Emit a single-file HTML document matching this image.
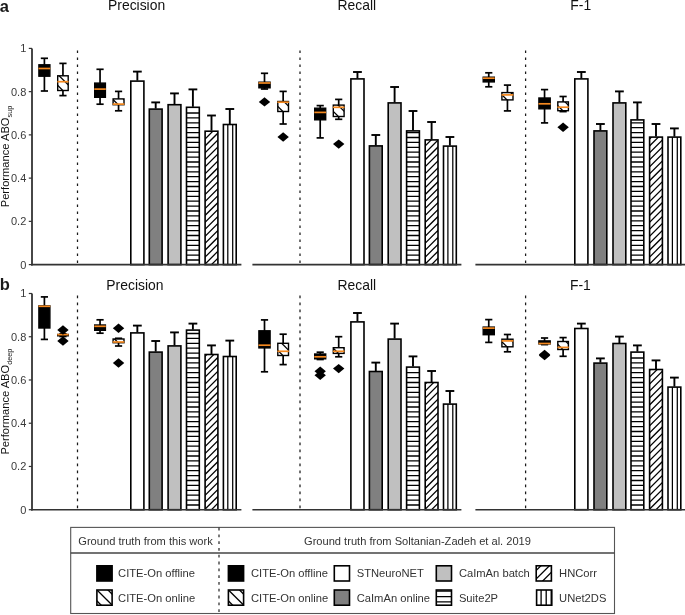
<!DOCTYPE html><html><head><meta charset="utf-8"><title>Figure</title><style>html,body{margin:0;padding:0;background:#fff;overflow:hidden;}svg{display:block;will-change:transform;}</style></head><body>
<svg width="685" height="615" viewBox="0 0 685 615" font-family='"Liberation Sans", sans-serif'>
<rect width="685" height="615" fill="#fff"/>
<text x="-0.3" y="11.6" font-size="16.5" font-weight="bold" fill="#1a1a1a">a</text>
<text x="136.6" y="10.1" font-size="13.9" text-anchor="middle" fill="#111">Precision</text>
<line x1="77.5" y1="50.4" x2="77.5" y2="263.1" stroke="#1a1a1a" stroke-width="1.25" stroke-dasharray="2.7 4.3"/>
<line x1="137.35" y1="71.6" x2="137.35" y2="80.6" stroke="#000" stroke-width="1.9"/>
<line x1="132.95" y1="71.6" x2="141.75" y2="71.6" stroke="#000" stroke-width="1.9"/>
<rect x="130.8" y="81.1" width="13.1" height="183.5" fill="#fff"/>
<rect x="130.8" y="81.1" width="13.1" height="183.5" fill="none" stroke="#000" stroke-width="1.6"/>
<line x1="155.7" y1="102.4" x2="155.7" y2="108.6" stroke="#000" stroke-width="1.9"/>
<line x1="151.3" y1="102.4" x2="160.1" y2="102.4" stroke="#000" stroke-width="1.9"/>
<rect x="149.3" y="109.1" width="12.8" height="155.5" fill="#808080"/>
<rect x="149.3" y="109.1" width="12.8" height="155.5" fill="none" stroke="#000" stroke-width="1.6"/>
<line x1="174.5" y1="93.4" x2="174.5" y2="104.2" stroke="#000" stroke-width="1.9"/>
<line x1="170.1" y1="93.4" x2="178.9" y2="93.4" stroke="#000" stroke-width="1.9"/>
<rect x="168.1" y="104.7" width="12.8" height="159.9" fill="#c0c0c0"/>
<rect x="168.1" y="104.7" width="12.8" height="159.9" fill="none" stroke="#000" stroke-width="1.6"/>
<line x1="192.9" y1="89.4" x2="192.9" y2="106.8" stroke="#000" stroke-width="1.9"/>
<line x1="188.5" y1="89.4" x2="197.3" y2="89.4" stroke="#000" stroke-width="1.9"/>
<rect x="186.5" y="107.3" width="12.8" height="157.3" fill="#fff"/>
<path d="M186.5 113H199.3M186.5 117.9H199.3M186.5 122.8H199.3M186.5 127.7H199.3M186.5 132.6H199.3M186.5 137.5H199.3M186.5 142.4H199.3M186.5 147.3H199.3M186.5 152.2H199.3M186.5 157.1H199.3M186.5 162H199.3M186.5 166.9H199.3M186.5 171.8H199.3M186.5 176.7H199.3M186.5 181.6H199.3M186.5 186.5H199.3M186.5 191.4H199.3M186.5 196.3H199.3M186.5 201.2H199.3M186.5 206.1H199.3M186.5 211H199.3M186.5 215.9H199.3M186.5 220.8H199.3M186.5 225.7H199.3M186.5 230.6H199.3M186.5 235.5H199.3M186.5 240.4H199.3M186.5 245.3H199.3M186.5 250.2H199.3M186.5 255.1H199.3M186.5 260H199.3" stroke="#000" stroke-width="1.3"/>
<rect x="186.5" y="107.3" width="12.8" height="157.3" fill="none" stroke="#000" stroke-width="1.6"/>
<line x1="211.5" y1="115.5" x2="211.5" y2="130.7" stroke="#000" stroke-width="1.9"/>
<line x1="207.1" y1="115.5" x2="215.9" y2="115.5" stroke="#000" stroke-width="1.9"/>
<rect x="205.1" y="131.2" width="12.8" height="133.4" fill="#fff"/>
<clipPath id="c1"><rect x="205.1" y="131.2" width="12.8" height="133.4"/></clipPath><g clip-path="url(#c1)" stroke="#000" stroke-width="1.25"><line x1="203.1" y1="113.15" x2="219.9" y2="96.35"/><line x1="203.1" y1="120.1" x2="219.9" y2="103.3"/><line x1="203.1" y1="127.05" x2="219.9" y2="110.25"/><line x1="203.1" y1="134" x2="219.9" y2="117.2"/><line x1="203.1" y1="140.95" x2="219.9" y2="124.15"/><line x1="203.1" y1="147.9" x2="219.9" y2="131.1"/><line x1="203.1" y1="154.85" x2="219.9" y2="138.05"/><line x1="203.1" y1="161.8" x2="219.9" y2="145"/><line x1="203.1" y1="168.75" x2="219.9" y2="151.95"/><line x1="203.1" y1="175.7" x2="219.9" y2="158.9"/><line x1="203.1" y1="182.65" x2="219.9" y2="165.85"/><line x1="203.1" y1="189.6" x2="219.9" y2="172.8"/><line x1="203.1" y1="196.55" x2="219.9" y2="179.75"/><line x1="203.1" y1="203.5" x2="219.9" y2="186.7"/><line x1="203.1" y1="210.45" x2="219.9" y2="193.65"/><line x1="203.1" y1="217.4" x2="219.9" y2="200.6"/><line x1="203.1" y1="224.35" x2="219.9" y2="207.55"/><line x1="203.1" y1="231.3" x2="219.9" y2="214.5"/><line x1="203.1" y1="238.25" x2="219.9" y2="221.45"/><line x1="203.1" y1="245.2" x2="219.9" y2="228.4"/><line x1="203.1" y1="252.15" x2="219.9" y2="235.35"/><line x1="203.1" y1="259.1" x2="219.9" y2="242.3"/><line x1="203.1" y1="266.05" x2="219.9" y2="249.25"/><line x1="203.1" y1="273" x2="219.9" y2="256.2"/><line x1="203.1" y1="279.95" x2="219.9" y2="263.15"/></g>
<rect x="205.1" y="131.2" width="12.8" height="133.4" fill="none" stroke="#000" stroke-width="1.6"/>
<line x1="229.8" y1="109.0" x2="229.8" y2="124.0" stroke="#000" stroke-width="1.9"/>
<line x1="225.4" y1="109.0" x2="234.2" y2="109.0" stroke="#000" stroke-width="1.9"/>
<rect x="223.4" y="124.5" width="12.8" height="140.1" fill="#fff"/>
<line x1="227.8" y1="124.5" x2="227.8" y2="264.6" stroke="#000" stroke-width="1.25"/>
<line x1="232.7" y1="124.5" x2="232.7" y2="264.6" stroke="#000" stroke-width="1.25"/>
<rect x="223.4" y="124.5" width="12.8" height="140.1" fill="none" stroke="#000" stroke-width="1.6"/>
<line x1="44.4" y1="58.3" x2="44.4" y2="91.0" stroke="#000" stroke-width="1.7"/>
<line x1="40.8" y1="58.3" x2="48" y2="58.3" stroke="#000" stroke-width="1.7"/>
<line x1="40.8" y1="91.0" x2="48" y2="91.0" stroke="#000" stroke-width="1.7"/>
<rect x="38.9" y="64.8" width="11" height="11.4" fill="#000" stroke="#000" stroke-width="1.4"/>
<line x1="38.5" y1="68.5" x2="50.3" y2="68.5" stroke="#f5891f" stroke-width="1.7"/>
<line x1="62.95" y1="63.4" x2="62.95" y2="95.6" stroke="#000" stroke-width="1.7"/>
<line x1="59.35" y1="63.4" x2="66.55" y2="63.4" stroke="#000" stroke-width="1.7"/>
<line x1="59.35" y1="95.6" x2="66.55" y2="95.6" stroke="#000" stroke-width="1.7"/>
<rect x="57.7" y="75.8" width="10.5" height="14.7" fill="#fff"/>
<clipPath id="c2"><rect x="57.7" y="75.8" width="10.5" height="14.7"/></clipPath><g clip-path="url(#c2)" stroke="#000" stroke-width="1.3"><line x1="55.7" y1="50.4" x2="70.2" y2="64.9"/><line x1="55.7" y1="61.4" x2="70.2" y2="75.9"/><line x1="55.7" y1="72.4" x2="70.2" y2="86.9"/><line x1="55.7" y1="83.4" x2="70.2" y2="97.9"/><line x1="55.7" y1="94.4" x2="70.2" y2="108.9"/></g>
<rect x="57.7" y="75.8" width="10.5" height="14.7" fill="none" stroke="#000" stroke-width="1.4"/>
<line x1="57.3" y1="81.7" x2="68.6" y2="81.7" stroke="#f5891f" stroke-width="1.7"/>
<line x1="100.05" y1="69.3" x2="100.05" y2="104.2" stroke="#000" stroke-width="1.7"/>
<line x1="96.45" y1="69.3" x2="103.65" y2="69.3" stroke="#000" stroke-width="1.7"/>
<line x1="96.45" y1="104.2" x2="103.65" y2="104.2" stroke="#000" stroke-width="1.7"/>
<rect x="94.7" y="83.1" width="10.7" height="14.2" fill="#000" stroke="#000" stroke-width="1.4"/>
<line x1="94.3" y1="89.1" x2="105.8" y2="89.1" stroke="#f5891f" stroke-width="1.7"/>
<line x1="118.55" y1="91.4" x2="118.55" y2="110.8" stroke="#000" stroke-width="1.7"/>
<line x1="114.95" y1="91.4" x2="122.15" y2="91.4" stroke="#000" stroke-width="1.7"/>
<line x1="114.95" y1="110.8" x2="122.15" y2="110.8" stroke="#000" stroke-width="1.7"/>
<rect x="113.1" y="98.9" width="10.9" height="5.8" fill="#fff"/>
<clipPath id="c3"><rect x="113.1" y="98.9" width="10.9" height="5.8"/></clipPath><g clip-path="url(#c3)" stroke="#000" stroke-width="1.3"><line x1="111.1" y1="64.6" x2="126" y2="79.5"/><line x1="111.1" y1="75.6" x2="126" y2="90.5"/><line x1="111.1" y1="86.6" x2="126" y2="101.5"/><line x1="111.1" y1="97.6" x2="126" y2="112.5"/><line x1="111.1" y1="108.6" x2="126" y2="123.5"/></g>
<rect x="113.1" y="98.9" width="10.9" height="5.8" fill="none" stroke="#000" stroke-width="1.4"/>
<line x1="112.7" y1="104.1" x2="124.4" y2="104.1" stroke="#f5891f" stroke-width="1.7"/>
<line x1="31.0" y1="264.6" x2="241.4" y2="264.6" stroke="#333" stroke-width="1.6"/>
<text x="356.8" y="10.1" font-size="13.9" text-anchor="middle" fill="#111">Recall</text>
<line x1="300.0" y1="50.4" x2="300.0" y2="263.1" stroke="#1a1a1a" stroke-width="1.25" stroke-dasharray="2.7 4.3"/>
<line x1="357.45" y1="72.0" x2="357.45" y2="78.4" stroke="#000" stroke-width="1.9"/>
<line x1="353.05" y1="72.0" x2="361.85" y2="72.0" stroke="#000" stroke-width="1.9"/>
<rect x="350.9" y="78.9" width="13.1" height="185.7" fill="#fff"/>
<rect x="350.9" y="78.9" width="13.1" height="185.7" fill="none" stroke="#000" stroke-width="1.6"/>
<line x1="375.8" y1="135.0" x2="375.8" y2="145.4" stroke="#000" stroke-width="1.9"/>
<line x1="371.4" y1="135.0" x2="380.2" y2="135.0" stroke="#000" stroke-width="1.9"/>
<rect x="369.4" y="145.9" width="12.8" height="118.7" fill="#808080"/>
<rect x="369.4" y="145.9" width="12.8" height="118.7" fill="none" stroke="#000" stroke-width="1.6"/>
<line x1="394.6" y1="87.0" x2="394.6" y2="102.4" stroke="#000" stroke-width="1.9"/>
<line x1="390.2" y1="87.0" x2="399" y2="87.0" stroke="#000" stroke-width="1.9"/>
<rect x="388.2" y="102.9" width="12.8" height="161.7" fill="#c0c0c0"/>
<rect x="388.2" y="102.9" width="12.8" height="161.7" fill="none" stroke="#000" stroke-width="1.6"/>
<line x1="413" y1="111.0" x2="413" y2="130.4" stroke="#000" stroke-width="1.9"/>
<line x1="408.6" y1="111.0" x2="417.4" y2="111.0" stroke="#000" stroke-width="1.9"/>
<rect x="406.6" y="130.9" width="12.8" height="133.7" fill="#fff"/>
<path d="M406.6 132.6H419.4M406.6 137.5H419.4M406.6 142.4H419.4M406.6 147.3H419.4M406.6 152.2H419.4M406.6 157.1H419.4M406.6 162H419.4M406.6 166.9H419.4M406.6 171.8H419.4M406.6 176.7H419.4M406.6 181.6H419.4M406.6 186.5H419.4M406.6 191.4H419.4M406.6 196.3H419.4M406.6 201.2H419.4M406.6 206.1H419.4M406.6 211H419.4M406.6 215.9H419.4M406.6 220.8H419.4M406.6 225.7H419.4M406.6 230.6H419.4M406.6 235.5H419.4M406.6 240.4H419.4M406.6 245.3H419.4M406.6 250.2H419.4M406.6 255.1H419.4M406.6 260H419.4" stroke="#000" stroke-width="1.3"/>
<rect x="406.6" y="130.9" width="12.8" height="133.7" fill="none" stroke="#000" stroke-width="1.6"/>
<line x1="431.6" y1="122.0" x2="431.6" y2="139.4" stroke="#000" stroke-width="1.9"/>
<line x1="427.2" y1="122.0" x2="436" y2="122.0" stroke="#000" stroke-width="1.9"/>
<rect x="425.2" y="139.9" width="12.8" height="124.7" fill="#fff"/>
<clipPath id="c4"><rect x="425.2" y="139.9" width="12.8" height="124.7"/></clipPath><g clip-path="url(#c4)" stroke="#000" stroke-width="1.25"><line x1="423.2" y1="120.1" x2="440" y2="103.3"/><line x1="423.2" y1="127.05" x2="440" y2="110.25"/><line x1="423.2" y1="134" x2="440" y2="117.2"/><line x1="423.2" y1="140.95" x2="440" y2="124.15"/><line x1="423.2" y1="147.9" x2="440" y2="131.1"/><line x1="423.2" y1="154.85" x2="440" y2="138.05"/><line x1="423.2" y1="161.8" x2="440" y2="145"/><line x1="423.2" y1="168.75" x2="440" y2="151.95"/><line x1="423.2" y1="175.7" x2="440" y2="158.9"/><line x1="423.2" y1="182.65" x2="440" y2="165.85"/><line x1="423.2" y1="189.6" x2="440" y2="172.8"/><line x1="423.2" y1="196.55" x2="440" y2="179.75"/><line x1="423.2" y1="203.5" x2="440" y2="186.7"/><line x1="423.2" y1="210.45" x2="440" y2="193.65"/><line x1="423.2" y1="217.4" x2="440" y2="200.6"/><line x1="423.2" y1="224.35" x2="440" y2="207.55"/><line x1="423.2" y1="231.3" x2="440" y2="214.5"/><line x1="423.2" y1="238.25" x2="440" y2="221.45"/><line x1="423.2" y1="245.2" x2="440" y2="228.4"/><line x1="423.2" y1="252.15" x2="440" y2="235.35"/><line x1="423.2" y1="259.1" x2="440" y2="242.3"/><line x1="423.2" y1="266.05" x2="440" y2="249.25"/><line x1="423.2" y1="273" x2="440" y2="256.2"/><line x1="423.2" y1="279.95" x2="440" y2="263.15"/></g>
<rect x="425.2" y="139.9" width="12.8" height="124.7" fill="none" stroke="#000" stroke-width="1.6"/>
<line x1="449.9" y1="137.0" x2="449.9" y2="145.6" stroke="#000" stroke-width="1.9"/>
<line x1="445.5" y1="137.0" x2="454.3" y2="137.0" stroke="#000" stroke-width="1.9"/>
<rect x="443.5" y="146.1" width="12.8" height="118.5" fill="#fff"/>
<line x1="447.9" y1="146.1" x2="447.9" y2="264.6" stroke="#000" stroke-width="1.25"/>
<line x1="452.8" y1="146.1" x2="452.8" y2="264.6" stroke="#000" stroke-width="1.25"/>
<rect x="443.5" y="146.1" width="12.8" height="118.5" fill="none" stroke="#000" stroke-width="1.6"/>
<line x1="264.5" y1="73.3" x2="264.5" y2="89.0" stroke="#000" stroke-width="1.7"/>
<line x1="260.9" y1="73.3" x2="268.1" y2="73.3" stroke="#000" stroke-width="1.7"/>
<line x1="260.9" y1="89.0" x2="268.1" y2="89.0" stroke="#000" stroke-width="1.7"/>
<rect x="258.9" y="82.2" width="11.2" height="5.6" fill="#000" stroke="#000" stroke-width="1.4"/>
<line x1="258.5" y1="83.0" x2="270.5" y2="83.0" stroke="#f5891f" stroke-width="1.7"/>
<path d="M258.8 101.9L264.5 97.2L270.2 101.9L264.5 106.6Z" fill="#000"/>
<line x1="283.15" y1="91.4" x2="283.15" y2="124.0" stroke="#000" stroke-width="1.7"/>
<line x1="279.55" y1="91.4" x2="286.75" y2="91.4" stroke="#000" stroke-width="1.7"/>
<line x1="279.55" y1="124.0" x2="286.75" y2="124.0" stroke="#000" stroke-width="1.7"/>
<rect x="277.8" y="101.5" width="10.7" height="10" fill="#fff"/>
<clipPath id="c5"><rect x="277.8" y="101.5" width="10.7" height="10"/></clipPath><g clip-path="url(#c5)" stroke="#000" stroke-width="1.3"><line x1="275.8" y1="71.4" x2="290.5" y2="86.1"/><line x1="275.8" y1="82.4" x2="290.5" y2="97.1"/><line x1="275.8" y1="93.4" x2="290.5" y2="108.1"/><line x1="275.8" y1="104.4" x2="290.5" y2="119.1"/><line x1="275.8" y1="115.4" x2="290.5" y2="130.1"/></g>
<rect x="277.8" y="101.5" width="10.7" height="10" fill="none" stroke="#000" stroke-width="1.4"/>
<line x1="277.4" y1="102.2" x2="288.9" y2="102.2" stroke="#f5891f" stroke-width="1.7"/>
<path d="M277.45 137.0L283.15 132.3L288.85 137.0L283.15 141.7Z" fill="#000"/>
<line x1="320.2" y1="105.6" x2="320.2" y2="137.9" stroke="#000" stroke-width="1.7"/>
<line x1="316.6" y1="105.6" x2="323.8" y2="105.6" stroke="#000" stroke-width="1.7"/>
<line x1="316.6" y1="137.9" x2="323.8" y2="137.9" stroke="#000" stroke-width="1.7"/>
<rect x="314.7" y="108.2" width="11" height="11.6" fill="#000" stroke="#000" stroke-width="1.4"/>
<line x1="314.3" y1="112.4" x2="326.1" y2="112.4" stroke="#f5891f" stroke-width="1.7"/>
<line x1="338.7" y1="99.4" x2="338.7" y2="119.3" stroke="#000" stroke-width="1.7"/>
<line x1="335.1" y1="99.4" x2="342.3" y2="99.4" stroke="#000" stroke-width="1.7"/>
<line x1="335.1" y1="119.3" x2="342.3" y2="119.3" stroke="#000" stroke-width="1.7"/>
<rect x="333.3" y="105.1" width="10.8" height="11.4" fill="#fff"/>
<clipPath id="c6"><rect x="333.3" y="105.1" width="10.8" height="11.4"/></clipPath><g clip-path="url(#c6)" stroke="#000" stroke-width="1.3"><line x1="331.3" y1="76.4" x2="346.1" y2="91.2"/><line x1="331.3" y1="87.4" x2="346.1" y2="102.2"/><line x1="331.3" y1="98.4" x2="346.1" y2="113.2"/><line x1="331.3" y1="109.4" x2="346.1" y2="124.2"/><line x1="331.3" y1="120.4" x2="346.1" y2="135.2"/></g>
<rect x="333.3" y="105.1" width="10.8" height="11.4" fill="none" stroke="#000" stroke-width="1.4"/>
<line x1="332.9" y1="107.3" x2="344.5" y2="107.3" stroke="#f5891f" stroke-width="1.7"/>
<path d="M333 144.1L338.7 139.4L344.4 144.1L338.7 148.8Z" fill="#000"/>
<line x1="252.4" y1="264.6" x2="461.4" y2="264.6" stroke="#333" stroke-width="1.6"/>
<text x="580.7" y="10.1" font-size="13.9" text-anchor="middle" fill="#111">F-1</text>
<line x1="525.6" y1="50.4" x2="525.6" y2="263.1" stroke="#1a1a1a" stroke-width="1.25" stroke-dasharray="2.7 4.3"/>
<line x1="581.35" y1="72.0" x2="581.35" y2="78.4" stroke="#000" stroke-width="1.9"/>
<line x1="576.95" y1="72.0" x2="585.75" y2="72.0" stroke="#000" stroke-width="1.9"/>
<rect x="574.8" y="78.9" width="13.1" height="185.7" fill="#fff"/>
<rect x="574.8" y="78.9" width="13.1" height="185.7" fill="none" stroke="#000" stroke-width="1.6"/>
<line x1="600.4" y1="124.0" x2="600.4" y2="130.4" stroke="#000" stroke-width="1.9"/>
<line x1="596" y1="124.0" x2="604.8" y2="124.0" stroke="#000" stroke-width="1.9"/>
<rect x="594" y="130.9" width="12.8" height="133.7" fill="#808080"/>
<rect x="594" y="130.9" width="12.8" height="133.7" fill="none" stroke="#000" stroke-width="1.6"/>
<line x1="619.4" y1="91.4" x2="619.4" y2="102.4" stroke="#000" stroke-width="1.9"/>
<line x1="615" y1="91.4" x2="623.8" y2="91.4" stroke="#000" stroke-width="1.9"/>
<rect x="613" y="102.9" width="12.8" height="161.7" fill="#c0c0c0"/>
<rect x="613" y="102.9" width="12.8" height="161.7" fill="none" stroke="#000" stroke-width="1.6"/>
<line x1="637.4" y1="102.4" x2="637.4" y2="119.4" stroke="#000" stroke-width="1.9"/>
<line x1="633" y1="102.4" x2="641.8" y2="102.4" stroke="#000" stroke-width="1.9"/>
<rect x="631" y="119.9" width="12.8" height="144.7" fill="#fff"/>
<path d="M631 122.8H643.8M631 127.7H643.8M631 132.6H643.8M631 137.5H643.8M631 142.4H643.8M631 147.3H643.8M631 152.2H643.8M631 157.1H643.8M631 162H643.8M631 166.9H643.8M631 171.8H643.8M631 176.7H643.8M631 181.6H643.8M631 186.5H643.8M631 191.4H643.8M631 196.3H643.8M631 201.2H643.8M631 206.1H643.8M631 211H643.8M631 215.9H643.8M631 220.8H643.8M631 225.7H643.8M631 230.6H643.8M631 235.5H643.8M631 240.4H643.8M631 245.3H643.8M631 250.2H643.8M631 255.1H643.8M631 260H643.8" stroke="#000" stroke-width="1.3"/>
<rect x="631" y="119.9" width="12.8" height="144.7" fill="none" stroke="#000" stroke-width="1.6"/>
<line x1="656" y1="124.0" x2="656" y2="136.6" stroke="#000" stroke-width="1.9"/>
<line x1="651.6" y1="124.0" x2="660.4" y2="124.0" stroke="#000" stroke-width="1.9"/>
<rect x="649.6" y="137.1" width="12.8" height="127.5" fill="#fff"/>
<clipPath id="c7"><rect x="649.6" y="137.1" width="12.8" height="127.5"/></clipPath><g clip-path="url(#c7)" stroke="#000" stroke-width="1.25"><line x1="647.6" y1="113.15" x2="664.4" y2="96.35"/><line x1="647.6" y1="120.1" x2="664.4" y2="103.3"/><line x1="647.6" y1="127.05" x2="664.4" y2="110.25"/><line x1="647.6" y1="134" x2="664.4" y2="117.2"/><line x1="647.6" y1="140.95" x2="664.4" y2="124.15"/><line x1="647.6" y1="147.9" x2="664.4" y2="131.1"/><line x1="647.6" y1="154.85" x2="664.4" y2="138.05"/><line x1="647.6" y1="161.8" x2="664.4" y2="145"/><line x1="647.6" y1="168.75" x2="664.4" y2="151.95"/><line x1="647.6" y1="175.7" x2="664.4" y2="158.9"/><line x1="647.6" y1="182.65" x2="664.4" y2="165.85"/><line x1="647.6" y1="189.6" x2="664.4" y2="172.8"/><line x1="647.6" y1="196.55" x2="664.4" y2="179.75"/><line x1="647.6" y1="203.5" x2="664.4" y2="186.7"/><line x1="647.6" y1="210.45" x2="664.4" y2="193.65"/><line x1="647.6" y1="217.4" x2="664.4" y2="200.6"/><line x1="647.6" y1="224.35" x2="664.4" y2="207.55"/><line x1="647.6" y1="231.3" x2="664.4" y2="214.5"/><line x1="647.6" y1="238.25" x2="664.4" y2="221.45"/><line x1="647.6" y1="245.2" x2="664.4" y2="228.4"/><line x1="647.6" y1="252.15" x2="664.4" y2="235.35"/><line x1="647.6" y1="259.1" x2="664.4" y2="242.3"/><line x1="647.6" y1="266.05" x2="664.4" y2="249.25"/><line x1="647.6" y1="273" x2="664.4" y2="256.2"/><line x1="647.6" y1="279.95" x2="664.4" y2="263.15"/></g>
<rect x="649.6" y="137.1" width="12.8" height="127.5" fill="none" stroke="#000" stroke-width="1.6"/>
<line x1="674.4" y1="128.4" x2="674.4" y2="136.6" stroke="#000" stroke-width="1.9"/>
<line x1="670" y1="128.4" x2="678.8" y2="128.4" stroke="#000" stroke-width="1.9"/>
<rect x="668" y="137.1" width="12.8" height="127.5" fill="#fff"/>
<line x1="672.4" y1="137.1" x2="672.4" y2="264.6" stroke="#000" stroke-width="1.25"/>
<line x1="677.3" y1="137.1" x2="677.3" y2="264.6" stroke="#000" stroke-width="1.25"/>
<rect x="668" y="137.1" width="12.8" height="127.5" fill="none" stroke="#000" stroke-width="1.6"/>
<line x1="488.75" y1="72.8" x2="488.75" y2="86.8" stroke="#000" stroke-width="1.7"/>
<line x1="485.15" y1="72.8" x2="492.35" y2="72.8" stroke="#000" stroke-width="1.7"/>
<line x1="485.15" y1="86.8" x2="492.35" y2="86.8" stroke="#000" stroke-width="1.7"/>
<rect x="483.2" y="77.2" width="11.1" height="4.7" fill="#000" stroke="#000" stroke-width="1.4"/>
<line x1="482.8" y1="78.2" x2="494.7" y2="78.2" stroke="#f5891f" stroke-width="1.7"/>
<line x1="507.45" y1="85.1" x2="507.45" y2="110.9" stroke="#000" stroke-width="1.7"/>
<line x1="503.85" y1="85.1" x2="511.05" y2="85.1" stroke="#000" stroke-width="1.7"/>
<line x1="503.85" y1="110.9" x2="511.05" y2="110.9" stroke="#000" stroke-width="1.7"/>
<rect x="501.9" y="92.6" width="11.1" height="7.3" fill="#fff"/>
<clipPath id="c8"><rect x="501.9" y="92.6" width="11.1" height="7.3"/></clipPath><g clip-path="url(#c8)" stroke="#000" stroke-width="1.3"><line x1="499.9" y1="59.8" x2="515" y2="74.9"/><line x1="499.9" y1="70.8" x2="515" y2="85.9"/><line x1="499.9" y1="81.8" x2="515" y2="96.9"/><line x1="499.9" y1="92.8" x2="515" y2="107.9"/><line x1="499.9" y1="103.8" x2="515" y2="118.9"/></g>
<rect x="501.9" y="92.6" width="11.1" height="7.3" fill="none" stroke="#000" stroke-width="1.4"/>
<line x1="501.5" y1="94.9" x2="513.4" y2="94.9" stroke="#f5891f" stroke-width="1.7"/>
<line x1="544.55" y1="89.6" x2="544.55" y2="122.9" stroke="#000" stroke-width="1.7"/>
<line x1="540.95" y1="89.6" x2="548.15" y2="89.6" stroke="#000" stroke-width="1.7"/>
<line x1="540.95" y1="122.9" x2="548.15" y2="122.9" stroke="#000" stroke-width="1.7"/>
<rect x="538.9" y="98" width="11.3" height="10.8" fill="#000" stroke="#000" stroke-width="1.4"/>
<line x1="538.5" y1="103.8" x2="550.6" y2="103.8" stroke="#f5891f" stroke-width="1.7"/>
<line x1="563.1" y1="96.5" x2="563.1" y2="111.6" stroke="#000" stroke-width="1.7"/>
<line x1="559.5" y1="96.5" x2="566.7" y2="96.5" stroke="#000" stroke-width="1.7"/>
<line x1="559.5" y1="111.6" x2="566.7" y2="111.6" stroke="#000" stroke-width="1.7"/>
<rect x="557.8" y="101.9" width="10.6" height="8.8" fill="#fff"/>
<clipPath id="c9"><rect x="557.8" y="101.9" width="10.6" height="8.8"/></clipPath><g clip-path="url(#c9)" stroke="#000" stroke-width="1.3"><line x1="555.8" y1="70.6" x2="570.4" y2="85.2"/><line x1="555.8" y1="81.6" x2="570.4" y2="96.2"/><line x1="555.8" y1="92.6" x2="570.4" y2="107.2"/><line x1="555.8" y1="103.6" x2="570.4" y2="118.2"/><line x1="555.8" y1="114.6" x2="570.4" y2="129.2"/></g>
<rect x="557.8" y="101.9" width="10.6" height="8.8" fill="none" stroke="#000" stroke-width="1.4"/>
<line x1="557.4" y1="107.2" x2="568.8" y2="107.2" stroke="#f5891f" stroke-width="1.7"/>
<path d="M557.4 127.2L563.1 122.5L568.8 127.2L563.1 131.9Z" fill="#000"/>
<line x1="475.4" y1="264.6" x2="685.5" y2="264.6" stroke="#333" stroke-width="1.6"/>
<line x1="32" y1="48.4" x2="32" y2="265.4" stroke="#333" stroke-width="1.8"/>
<line x1="28.8" y1="264.6" x2="32" y2="264.6" stroke="#333" stroke-width="1.2"/>
<text x="26.3" y="268.55" font-size="11" text-anchor="end" fill="#3a3a3a">0</text>
<line x1="28.8" y1="221.36" x2="32" y2="221.36" stroke="#333" stroke-width="1.2"/>
<text x="26.3" y="225.31" font-size="11" text-anchor="end" fill="#3a3a3a">0.2</text>
<line x1="28.8" y1="178.12" x2="32" y2="178.12" stroke="#333" stroke-width="1.2"/>
<text x="26.3" y="182.07" font-size="11" text-anchor="end" fill="#3a3a3a">0.4</text>
<line x1="28.8" y1="134.88" x2="32" y2="134.88" stroke="#333" stroke-width="1.2"/>
<text x="26.3" y="138.83" font-size="11" text-anchor="end" fill="#3a3a3a">0.6</text>
<line x1="28.8" y1="91.64" x2="32" y2="91.64" stroke="#333" stroke-width="1.2"/>
<text x="26.3" y="95.59" font-size="11" text-anchor="end" fill="#3a3a3a">0.8</text>
<line x1="28.8" y1="48.4" x2="32" y2="48.4" stroke="#333" stroke-width="1.2"/>
<text x="26.3" y="52.35" font-size="11" text-anchor="end" fill="#3a3a3a">1</text>
<text transform="translate(9.3,156.5) rotate(-90)" font-size="11.15" text-anchor="middle" fill="#111">Performance ABO<tspan font-size="7.3" dy="2.3">sup</tspan></text>
<text x="-0.3" y="290.3" font-size="16.5" font-weight="bold" fill="#1a1a1a">b</text>
<text x="134.9" y="290.1" font-size="13.9" text-anchor="middle" fill="#111">Precision</text>
<line x1="77.5" y1="295.5" x2="77.5" y2="508.2" stroke="#1a1a1a" stroke-width="1.25" stroke-dasharray="2.7 4.3"/>
<line x1="137.35" y1="325.6" x2="137.35" y2="332.4" stroke="#000" stroke-width="1.9"/>
<line x1="132.95" y1="325.6" x2="141.75" y2="325.6" stroke="#000" stroke-width="1.9"/>
<rect x="130.8" y="332.9" width="13.1" height="176.8" fill="#fff"/>
<rect x="130.8" y="332.9" width="13.1" height="176.8" fill="none" stroke="#000" stroke-width="1.6"/>
<line x1="155.7" y1="341.0" x2="155.7" y2="351.6" stroke="#000" stroke-width="1.9"/>
<line x1="151.3" y1="341.0" x2="160.1" y2="341.0" stroke="#000" stroke-width="1.9"/>
<rect x="149.3" y="352.1" width="12.8" height="157.6" fill="#808080"/>
<rect x="149.3" y="352.1" width="12.8" height="157.6" fill="none" stroke="#000" stroke-width="1.6"/>
<line x1="174.5" y1="332.4" x2="174.5" y2="345.4" stroke="#000" stroke-width="1.9"/>
<line x1="170.1" y1="332.4" x2="178.9" y2="332.4" stroke="#000" stroke-width="1.9"/>
<rect x="168.1" y="345.9" width="12.8" height="163.8" fill="#c0c0c0"/>
<rect x="168.1" y="345.9" width="12.8" height="163.8" fill="none" stroke="#000" stroke-width="1.6"/>
<line x1="192.9" y1="323.6" x2="192.9" y2="329.6" stroke="#000" stroke-width="1.9"/>
<line x1="188.5" y1="323.6" x2="197.3" y2="323.6" stroke="#000" stroke-width="1.9"/>
<rect x="186.5" y="330.1" width="12.8" height="179.6" fill="#fff"/>
<path d="M186.5 333.5H199.3M186.5 338.4H199.3M186.5 343.3H199.3M186.5 348.2H199.3M186.5 353.1H199.3M186.5 358H199.3M186.5 362.9H199.3M186.5 367.8H199.3M186.5 372.7H199.3M186.5 377.6H199.3M186.5 382.5H199.3M186.5 387.4H199.3M186.5 392.3H199.3M186.5 397.2H199.3M186.5 402.1H199.3M186.5 407H199.3M186.5 411.9H199.3M186.5 416.8H199.3M186.5 421.7H199.3M186.5 426.6H199.3M186.5 431.5H199.3M186.5 436.4H199.3M186.5 441.3H199.3M186.5 446.2H199.3M186.5 451.1H199.3M186.5 456H199.3M186.5 460.9H199.3M186.5 465.8H199.3M186.5 470.7H199.3M186.5 475.6H199.3M186.5 480.5H199.3M186.5 485.4H199.3M186.5 490.3H199.3M186.5 495.2H199.3M186.5 500.1H199.3M186.5 505H199.3" stroke="#000" stroke-width="1.3"/>
<rect x="186.5" y="330.1" width="12.8" height="179.6" fill="none" stroke="#000" stroke-width="1.6"/>
<line x1="211.5" y1="345.4" x2="211.5" y2="354.0" stroke="#000" stroke-width="1.9"/>
<line x1="207.1" y1="345.4" x2="215.9" y2="345.4" stroke="#000" stroke-width="1.9"/>
<rect x="205.1" y="354.5" width="12.8" height="155.2" fill="#fff"/>
<clipPath id="c10"><rect x="205.1" y="354.5" width="12.8" height="155.2"/></clipPath><g clip-path="url(#c10)" stroke="#000" stroke-width="1.25"><line x1="203.1" y1="330.45" x2="219.9" y2="313.65"/><line x1="203.1" y1="337.4" x2="219.9" y2="320.6"/><line x1="203.1" y1="344.35" x2="219.9" y2="327.55"/><line x1="203.1" y1="351.3" x2="219.9" y2="334.5"/><line x1="203.1" y1="358.25" x2="219.9" y2="341.45"/><line x1="203.1" y1="365.2" x2="219.9" y2="348.4"/><line x1="203.1" y1="372.15" x2="219.9" y2="355.35"/><line x1="203.1" y1="379.1" x2="219.9" y2="362.3"/><line x1="203.1" y1="386.05" x2="219.9" y2="369.25"/><line x1="203.1" y1="393" x2="219.9" y2="376.2"/><line x1="203.1" y1="399.95" x2="219.9" y2="383.15"/><line x1="203.1" y1="406.9" x2="219.9" y2="390.1"/><line x1="203.1" y1="413.85" x2="219.9" y2="397.05"/><line x1="203.1" y1="420.8" x2="219.9" y2="404"/><line x1="203.1" y1="427.75" x2="219.9" y2="410.95"/><line x1="203.1" y1="434.7" x2="219.9" y2="417.9"/><line x1="203.1" y1="441.65" x2="219.9" y2="424.85"/><line x1="203.1" y1="448.6" x2="219.9" y2="431.8"/><line x1="203.1" y1="455.55" x2="219.9" y2="438.75"/><line x1="203.1" y1="462.5" x2="219.9" y2="445.7"/><line x1="203.1" y1="469.45" x2="219.9" y2="452.65"/><line x1="203.1" y1="476.4" x2="219.9" y2="459.6"/><line x1="203.1" y1="483.35" x2="219.9" y2="466.55"/><line x1="203.1" y1="490.3" x2="219.9" y2="473.5"/><line x1="203.1" y1="497.25" x2="219.9" y2="480.45"/><line x1="203.1" y1="504.2" x2="219.9" y2="487.4"/><line x1="203.1" y1="511.15" x2="219.9" y2="494.35"/><line x1="203.1" y1="518.1" x2="219.9" y2="501.3"/><line x1="203.1" y1="525.05" x2="219.9" y2="508.25"/></g>
<rect x="205.1" y="354.5" width="12.8" height="155.2" fill="none" stroke="#000" stroke-width="1.6"/>
<line x1="229.8" y1="340.6" x2="229.8" y2="356.0" stroke="#000" stroke-width="1.9"/>
<line x1="225.4" y1="340.6" x2="234.2" y2="340.6" stroke="#000" stroke-width="1.9"/>
<rect x="223.4" y="356.5" width="12.8" height="153.2" fill="#fff"/>
<line x1="227.8" y1="356.5" x2="227.8" y2="509.7" stroke="#000" stroke-width="1.25"/>
<line x1="232.7" y1="356.5" x2="232.7" y2="509.7" stroke="#000" stroke-width="1.25"/>
<rect x="223.4" y="356.5" width="12.8" height="153.2" fill="none" stroke="#000" stroke-width="1.6"/>
<line x1="44.4" y1="296.9" x2="44.4" y2="339.4" stroke="#000" stroke-width="1.7"/>
<line x1="40.8" y1="296.9" x2="48" y2="296.9" stroke="#000" stroke-width="1.7"/>
<line x1="40.8" y1="339.4" x2="48" y2="339.4" stroke="#000" stroke-width="1.7"/>
<rect x="38.9" y="305.9" width="11" height="22.1" fill="#000" stroke="#000" stroke-width="1.4"/>
<line x1="38.5" y1="306.3" x2="50.3" y2="306.3" stroke="#f5891f" stroke-width="1.7"/>
<line x1="62.95" y1="333.8" x2="62.95" y2="336.5" stroke="#000" stroke-width="1.7"/>
<line x1="59.35" y1="333.8" x2="66.55" y2="333.8" stroke="#000" stroke-width="1.7"/>
<line x1="59.35" y1="336.5" x2="66.55" y2="336.5" stroke="#000" stroke-width="1.7"/>
<rect x="57.7" y="334.5" width="10.5" height="1.3" fill="#fff"/>
<clipPath id="c11"><rect x="57.7" y="334.5" width="10.5" height="1.3"/></clipPath><g clip-path="url(#c11)" stroke="#000" stroke-width="1.3"><line x1="55.7" y1="306.7" x2="70.2" y2="321.2"/><line x1="55.7" y1="317.7" x2="70.2" y2="332.2"/><line x1="55.7" y1="328.7" x2="70.2" y2="343.2"/><line x1="55.7" y1="339.7" x2="70.2" y2="354.2"/></g>
<rect x="57.7" y="334.5" width="10.5" height="1.3" fill="none" stroke="#000" stroke-width="1.4"/>
<line x1="57.3" y1="334.6" x2="68.6" y2="334.6" stroke="#f5891f" stroke-width="1.7"/>
<path d="M57.25 330.0L62.95 325.3L68.65 330.0L62.95 334.7Z" fill="#000"/>
<path d="M57.25 341.0L62.95 336.3L68.65 341.0L62.95 345.7Z" fill="#000"/>
<line x1="100.05" y1="319.8" x2="100.05" y2="333.2" stroke="#000" stroke-width="1.7"/>
<line x1="96.45" y1="319.8" x2="103.65" y2="319.8" stroke="#000" stroke-width="1.7"/>
<line x1="96.45" y1="333.2" x2="103.65" y2="333.2" stroke="#000" stroke-width="1.7"/>
<rect x="94.7" y="325" width="10.7" height="5.3" fill="#000" stroke="#000" stroke-width="1.4"/>
<line x1="94.3" y1="326.3" x2="105.8" y2="326.3" stroke="#f5891f" stroke-width="1.7"/>
<line x1="118.55" y1="338.3" x2="118.55" y2="346.0" stroke="#000" stroke-width="1.7"/>
<line x1="114.95" y1="338.3" x2="122.15" y2="338.3" stroke="#000" stroke-width="1.7"/>
<line x1="114.95" y1="346.0" x2="122.15" y2="346.0" stroke="#000" stroke-width="1.7"/>
<rect x="113.1" y="339" width="10.9" height="3.7" fill="#fff"/>
<clipPath id="c12"><rect x="113.1" y="339" width="10.9" height="3.7"/></clipPath><g clip-path="url(#c12)" stroke="#000" stroke-width="1.3"><line x1="111.1" y1="313.6" x2="126" y2="328.5"/><line x1="111.1" y1="324.6" x2="126" y2="339.5"/><line x1="111.1" y1="335.6" x2="126" y2="350.5"/><line x1="111.1" y1="346.6" x2="126" y2="361.5"/></g>
<rect x="113.1" y="339" width="10.9" height="3.7" fill="none" stroke="#000" stroke-width="1.4"/>
<line x1="112.7" y1="342.0" x2="124.4" y2="342.0" stroke="#f5891f" stroke-width="1.7"/>
<path d="M112.85 328.3L118.55 323.6L124.25 328.3L118.55 333Z" fill="#000"/>
<path d="M112.85 363.0L118.55 358.3L124.25 363.0L118.55 367.7Z" fill="#000"/>
<line x1="31.0" y1="509.7" x2="241.4" y2="509.7" stroke="#333" stroke-width="1.6"/>
<text x="356.8" y="290.1" font-size="13.9" text-anchor="middle" fill="#111">Recall</text>
<line x1="300.0" y1="295.5" x2="300.0" y2="508.2" stroke="#1a1a1a" stroke-width="1.25" stroke-dasharray="2.7 4.3"/>
<line x1="357.45" y1="313.0" x2="357.45" y2="321.4" stroke="#000" stroke-width="1.9"/>
<line x1="353.05" y1="313.0" x2="361.85" y2="313.0" stroke="#000" stroke-width="1.9"/>
<rect x="350.9" y="321.9" width="13.1" height="187.8" fill="#fff"/>
<rect x="350.9" y="321.9" width="13.1" height="187.8" fill="none" stroke="#000" stroke-width="1.6"/>
<line x1="375.8" y1="362.6" x2="375.8" y2="371.0" stroke="#000" stroke-width="1.9"/>
<line x1="371.4" y1="362.6" x2="380.2" y2="362.6" stroke="#000" stroke-width="1.9"/>
<rect x="369.4" y="371.5" width="12.8" height="138.2" fill="#808080"/>
<rect x="369.4" y="371.5" width="12.8" height="138.2" fill="none" stroke="#000" stroke-width="1.6"/>
<line x1="394.6" y1="323.6" x2="394.6" y2="338.6" stroke="#000" stroke-width="1.9"/>
<line x1="390.2" y1="323.6" x2="399" y2="323.6" stroke="#000" stroke-width="1.9"/>
<rect x="388.2" y="339.1" width="12.8" height="170.6" fill="#c0c0c0"/>
<rect x="388.2" y="339.1" width="12.8" height="170.6" fill="none" stroke="#000" stroke-width="1.6"/>
<line x1="413" y1="356.4" x2="413" y2="366.6" stroke="#000" stroke-width="1.9"/>
<line x1="408.6" y1="356.4" x2="417.4" y2="356.4" stroke="#000" stroke-width="1.9"/>
<rect x="406.6" y="367.1" width="12.8" height="142.6" fill="#fff"/>
<path d="M406.6 372.7H419.4M406.6 377.6H419.4M406.6 382.5H419.4M406.6 387.4H419.4M406.6 392.3H419.4M406.6 397.2H419.4M406.6 402.1H419.4M406.6 407H419.4M406.6 411.9H419.4M406.6 416.8H419.4M406.6 421.7H419.4M406.6 426.6H419.4M406.6 431.5H419.4M406.6 436.4H419.4M406.6 441.3H419.4M406.6 446.2H419.4M406.6 451.1H419.4M406.6 456H419.4M406.6 460.9H419.4M406.6 465.8H419.4M406.6 470.7H419.4M406.6 475.6H419.4M406.6 480.5H419.4M406.6 485.4H419.4M406.6 490.3H419.4M406.6 495.2H419.4M406.6 500.1H419.4M406.6 505H419.4" stroke="#000" stroke-width="1.3"/>
<rect x="406.6" y="367.1" width="12.8" height="142.6" fill="none" stroke="#000" stroke-width="1.6"/>
<line x1="431.6" y1="371.0" x2="431.6" y2="382.0" stroke="#000" stroke-width="1.9"/>
<line x1="427.2" y1="371.0" x2="436" y2="371.0" stroke="#000" stroke-width="1.9"/>
<rect x="425.2" y="382.5" width="12.8" height="127.2" fill="#fff"/>
<clipPath id="c13"><rect x="425.2" y="382.5" width="12.8" height="127.2"/></clipPath><g clip-path="url(#c13)" stroke="#000" stroke-width="1.25"><line x1="423.2" y1="358.25" x2="440" y2="341.45"/><line x1="423.2" y1="365.2" x2="440" y2="348.4"/><line x1="423.2" y1="372.15" x2="440" y2="355.35"/><line x1="423.2" y1="379.1" x2="440" y2="362.3"/><line x1="423.2" y1="386.05" x2="440" y2="369.25"/><line x1="423.2" y1="393" x2="440" y2="376.2"/><line x1="423.2" y1="399.95" x2="440" y2="383.15"/><line x1="423.2" y1="406.9" x2="440" y2="390.1"/><line x1="423.2" y1="413.85" x2="440" y2="397.05"/><line x1="423.2" y1="420.8" x2="440" y2="404"/><line x1="423.2" y1="427.75" x2="440" y2="410.95"/><line x1="423.2" y1="434.7" x2="440" y2="417.9"/><line x1="423.2" y1="441.65" x2="440" y2="424.85"/><line x1="423.2" y1="448.6" x2="440" y2="431.8"/><line x1="423.2" y1="455.55" x2="440" y2="438.75"/><line x1="423.2" y1="462.5" x2="440" y2="445.7"/><line x1="423.2" y1="469.45" x2="440" y2="452.65"/><line x1="423.2" y1="476.4" x2="440" y2="459.6"/><line x1="423.2" y1="483.35" x2="440" y2="466.55"/><line x1="423.2" y1="490.3" x2="440" y2="473.5"/><line x1="423.2" y1="497.25" x2="440" y2="480.45"/><line x1="423.2" y1="504.2" x2="440" y2="487.4"/><line x1="423.2" y1="511.15" x2="440" y2="494.35"/><line x1="423.2" y1="518.1" x2="440" y2="501.3"/><line x1="423.2" y1="525.05" x2="440" y2="508.25"/></g>
<rect x="425.2" y="382.5" width="12.8" height="127.2" fill="none" stroke="#000" stroke-width="1.6"/>
<line x1="449.9" y1="391.0" x2="449.9" y2="403.6" stroke="#000" stroke-width="1.9"/>
<line x1="445.5" y1="391.0" x2="454.3" y2="391.0" stroke="#000" stroke-width="1.9"/>
<rect x="443.5" y="404.1" width="12.8" height="105.6" fill="#fff"/>
<line x1="447.9" y1="404.1" x2="447.9" y2="509.7" stroke="#000" stroke-width="1.25"/>
<line x1="452.8" y1="404.1" x2="452.8" y2="509.7" stroke="#000" stroke-width="1.25"/>
<rect x="443.5" y="404.1" width="12.8" height="105.6" fill="none" stroke="#000" stroke-width="1.6"/>
<line x1="264.5" y1="319.9" x2="264.5" y2="371.8" stroke="#000" stroke-width="1.7"/>
<line x1="260.9" y1="319.9" x2="268.1" y2="319.9" stroke="#000" stroke-width="1.7"/>
<line x1="260.9" y1="371.8" x2="268.1" y2="371.8" stroke="#000" stroke-width="1.7"/>
<rect x="258.9" y="330.8" width="11.2" height="17.1" fill="#000" stroke="#000" stroke-width="1.4"/>
<line x1="258.5" y1="345.2" x2="270.5" y2="345.2" stroke="#f5891f" stroke-width="1.7"/>
<line x1="283.15" y1="334.2" x2="283.15" y2="364.6" stroke="#000" stroke-width="1.7"/>
<line x1="279.55" y1="334.2" x2="286.75" y2="334.2" stroke="#000" stroke-width="1.7"/>
<line x1="279.55" y1="364.6" x2="286.75" y2="364.6" stroke="#000" stroke-width="1.7"/>
<rect x="277.8" y="343.3" width="10.7" height="12.2" fill="#fff"/>
<clipPath id="c14"><rect x="277.8" y="343.3" width="10.7" height="12.2"/></clipPath><g clip-path="url(#c14)" stroke="#000" stroke-width="1.3"><line x1="275.8" y1="315.4" x2="290.5" y2="330.1"/><line x1="275.8" y1="326.4" x2="290.5" y2="341.1"/><line x1="275.8" y1="337.4" x2="290.5" y2="352.1"/><line x1="275.8" y1="348.4" x2="290.5" y2="363.1"/><line x1="275.8" y1="359.4" x2="290.5" y2="374.1"/></g>
<rect x="277.8" y="343.3" width="10.7" height="12.2" fill="none" stroke="#000" stroke-width="1.4"/>
<line x1="277.4" y1="351.3" x2="288.9" y2="351.3" stroke="#f5891f" stroke-width="1.7"/>
<line x1="320.2" y1="352.2" x2="320.2" y2="359.5" stroke="#000" stroke-width="1.7"/>
<line x1="316.6" y1="352.2" x2="323.8" y2="352.2" stroke="#000" stroke-width="1.7"/>
<line x1="316.6" y1="359.5" x2="323.8" y2="359.5" stroke="#000" stroke-width="1.7"/>
<rect x="314.7" y="354" width="11" height="4.8" fill="#000" stroke="#000" stroke-width="1.4"/>
<line x1="314.3" y1="356.8" x2="326.1" y2="356.8" stroke="#f5891f" stroke-width="1.7"/>
<path d="M314.5 371.3L320.2 366.6L325.9 371.3L320.2 376Z" fill="#000"/>
<path d="M314.5 375.3L320.2 370.6L325.9 375.3L320.2 380Z" fill="#000"/>
<line x1="338.7" y1="336.7" x2="338.7" y2="356.8" stroke="#000" stroke-width="1.7"/>
<line x1="335.1" y1="336.7" x2="342.3" y2="336.7" stroke="#000" stroke-width="1.7"/>
<line x1="335.1" y1="356.8" x2="342.3" y2="356.8" stroke="#000" stroke-width="1.7"/>
<rect x="333.3" y="347.7" width="10.8" height="5.7" fill="#fff"/>
<clipPath id="c15"><rect x="333.3" y="347.7" width="10.8" height="5.7"/></clipPath><g clip-path="url(#c15)" stroke="#000" stroke-width="1.3"><line x1="331.3" y1="313.3" x2="346.1" y2="328.1"/><line x1="331.3" y1="324.3" x2="346.1" y2="339.1"/><line x1="331.3" y1="335.3" x2="346.1" y2="350.1"/><line x1="331.3" y1="346.3" x2="346.1" y2="361.1"/><line x1="331.3" y1="357.3" x2="346.1" y2="372.1"/></g>
<rect x="333.3" y="347.7" width="10.8" height="5.7" fill="none" stroke="#000" stroke-width="1.4"/>
<line x1="332.9" y1="351.3" x2="344.5" y2="351.3" stroke="#f5891f" stroke-width="1.7"/>
<path d="M333 368.6L338.7 363.9L344.4 368.6L338.7 373.3Z" fill="#000"/>
<line x1="252.4" y1="509.7" x2="461.4" y2="509.7" stroke="#333" stroke-width="1.6"/>
<text x="580.4" y="290.1" font-size="13.9" text-anchor="middle" fill="#111">F-1</text>
<line x1="525.6" y1="295.5" x2="525.6" y2="508.2" stroke="#1a1a1a" stroke-width="1.25" stroke-dasharray="2.7 4.3"/>
<line x1="581.35" y1="323.6" x2="581.35" y2="328.0" stroke="#000" stroke-width="1.9"/>
<line x1="576.95" y1="323.6" x2="585.75" y2="323.6" stroke="#000" stroke-width="1.9"/>
<rect x="574.8" y="328.5" width="13.1" height="181.2" fill="#fff"/>
<rect x="574.8" y="328.5" width="13.1" height="181.2" fill="none" stroke="#000" stroke-width="1.6"/>
<line x1="600.4" y1="358.4" x2="600.4" y2="362.6" stroke="#000" stroke-width="1.9"/>
<line x1="596" y1="358.4" x2="604.8" y2="358.4" stroke="#000" stroke-width="1.9"/>
<rect x="594" y="363.1" width="12.8" height="146.6" fill="#808080"/>
<rect x="594" y="363.1" width="12.8" height="146.6" fill="none" stroke="#000" stroke-width="1.6"/>
<line x1="619.4" y1="336.6" x2="619.4" y2="343.0" stroke="#000" stroke-width="1.9"/>
<line x1="615" y1="336.6" x2="623.8" y2="336.6" stroke="#000" stroke-width="1.9"/>
<rect x="613" y="343.5" width="12.8" height="166.2" fill="#c0c0c0"/>
<rect x="613" y="343.5" width="12.8" height="166.2" fill="none" stroke="#000" stroke-width="1.6"/>
<line x1="637.4" y1="345.4" x2="637.4" y2="351.6" stroke="#000" stroke-width="1.9"/>
<line x1="633" y1="345.4" x2="641.8" y2="345.4" stroke="#000" stroke-width="1.9"/>
<rect x="631" y="352.1" width="12.8" height="157.6" fill="#fff"/>
<path d="M631 358H643.8M631 362.9H643.8M631 367.8H643.8M631 372.7H643.8M631 377.6H643.8M631 382.5H643.8M631 387.4H643.8M631 392.3H643.8M631 397.2H643.8M631 402.1H643.8M631 407H643.8M631 411.9H643.8M631 416.8H643.8M631 421.7H643.8M631 426.6H643.8M631 431.5H643.8M631 436.4H643.8M631 441.3H643.8M631 446.2H643.8M631 451.1H643.8M631 456H643.8M631 460.9H643.8M631 465.8H643.8M631 470.7H643.8M631 475.6H643.8M631 480.5H643.8M631 485.4H643.8M631 490.3H643.8M631 495.2H643.8M631 500.1H643.8M631 505H643.8" stroke="#000" stroke-width="1.3"/>
<rect x="631" y="352.1" width="12.8" height="157.6" fill="none" stroke="#000" stroke-width="1.6"/>
<line x1="656" y1="360.4" x2="656" y2="369.0" stroke="#000" stroke-width="1.9"/>
<line x1="651.6" y1="360.4" x2="660.4" y2="360.4" stroke="#000" stroke-width="1.9"/>
<rect x="649.6" y="369.5" width="12.8" height="140.2" fill="#fff"/>
<clipPath id="c16"><rect x="649.6" y="369.5" width="12.8" height="140.2"/></clipPath><g clip-path="url(#c16)" stroke="#000" stroke-width="1.25"><line x1="647.6" y1="351.3" x2="664.4" y2="334.5"/><line x1="647.6" y1="358.25" x2="664.4" y2="341.45"/><line x1="647.6" y1="365.2" x2="664.4" y2="348.4"/><line x1="647.6" y1="372.15" x2="664.4" y2="355.35"/><line x1="647.6" y1="379.1" x2="664.4" y2="362.3"/><line x1="647.6" y1="386.05" x2="664.4" y2="369.25"/><line x1="647.6" y1="393" x2="664.4" y2="376.2"/><line x1="647.6" y1="399.95" x2="664.4" y2="383.15"/><line x1="647.6" y1="406.9" x2="664.4" y2="390.1"/><line x1="647.6" y1="413.85" x2="664.4" y2="397.05"/><line x1="647.6" y1="420.8" x2="664.4" y2="404"/><line x1="647.6" y1="427.75" x2="664.4" y2="410.95"/><line x1="647.6" y1="434.7" x2="664.4" y2="417.9"/><line x1="647.6" y1="441.65" x2="664.4" y2="424.85"/><line x1="647.6" y1="448.6" x2="664.4" y2="431.8"/><line x1="647.6" y1="455.55" x2="664.4" y2="438.75"/><line x1="647.6" y1="462.5" x2="664.4" y2="445.7"/><line x1="647.6" y1="469.45" x2="664.4" y2="452.65"/><line x1="647.6" y1="476.4" x2="664.4" y2="459.6"/><line x1="647.6" y1="483.35" x2="664.4" y2="466.55"/><line x1="647.6" y1="490.3" x2="664.4" y2="473.5"/><line x1="647.6" y1="497.25" x2="664.4" y2="480.45"/><line x1="647.6" y1="504.2" x2="664.4" y2="487.4"/><line x1="647.6" y1="511.15" x2="664.4" y2="494.35"/><line x1="647.6" y1="518.1" x2="664.4" y2="501.3"/><line x1="647.6" y1="525.05" x2="664.4" y2="508.25"/></g>
<rect x="649.6" y="369.5" width="12.8" height="140.2" fill="none" stroke="#000" stroke-width="1.6"/>
<line x1="674.4" y1="377.6" x2="674.4" y2="386.6" stroke="#000" stroke-width="1.9"/>
<line x1="670" y1="377.6" x2="678.8" y2="377.6" stroke="#000" stroke-width="1.9"/>
<rect x="668" y="387.1" width="12.8" height="122.6" fill="#fff"/>
<line x1="672.4" y1="387.1" x2="672.4" y2="509.7" stroke="#000" stroke-width="1.25"/>
<line x1="677.3" y1="387.1" x2="677.3" y2="509.7" stroke="#000" stroke-width="1.25"/>
<rect x="668" y="387.1" width="12.8" height="122.6" fill="none" stroke="#000" stroke-width="1.6"/>
<line x1="488.75" y1="319.6" x2="488.75" y2="342.4" stroke="#000" stroke-width="1.7"/>
<line x1="485.15" y1="319.6" x2="492.35" y2="319.6" stroke="#000" stroke-width="1.7"/>
<line x1="485.15" y1="342.4" x2="492.35" y2="342.4" stroke="#000" stroke-width="1.7"/>
<rect x="483.2" y="327.1" width="11.1" height="7.6" fill="#000" stroke="#000" stroke-width="1.4"/>
<line x1="482.8" y1="328.1" x2="494.7" y2="328.1" stroke="#f5891f" stroke-width="1.7"/>
<line x1="507.45" y1="334.5" x2="507.45" y2="351.8" stroke="#000" stroke-width="1.7"/>
<line x1="503.85" y1="334.5" x2="511.05" y2="334.5" stroke="#000" stroke-width="1.7"/>
<line x1="503.85" y1="351.8" x2="511.05" y2="351.8" stroke="#000" stroke-width="1.7"/>
<rect x="501.9" y="339.2" width="11.1" height="7.6" fill="#fff"/>
<clipPath id="c17"><rect x="501.9" y="339.2" width="11.1" height="7.6"/></clipPath><g clip-path="url(#c17)" stroke="#000" stroke-width="1.3"><line x1="499.9" y1="306.7" x2="515" y2="321.8"/><line x1="499.9" y1="317.7" x2="515" y2="332.8"/><line x1="499.9" y1="328.7" x2="515" y2="343.8"/><line x1="499.9" y1="339.7" x2="515" y2="354.8"/><line x1="499.9" y1="350.7" x2="515" y2="365.8"/></g>
<rect x="501.9" y="339.2" width="11.1" height="7.6" fill="none" stroke="#000" stroke-width="1.4"/>
<line x1="501.5" y1="340.9" x2="513.4" y2="340.9" stroke="#f5891f" stroke-width="1.7"/>
<line x1="544.55" y1="338.0" x2="544.55" y2="344.6" stroke="#000" stroke-width="1.7"/>
<line x1="540.95" y1="338.0" x2="548.15" y2="338.0" stroke="#000" stroke-width="1.7"/>
<line x1="540.95" y1="344.6" x2="548.15" y2="344.6" stroke="#000" stroke-width="1.7"/>
<rect x="538.9" y="340.9" width="11.3" height="3" fill="#000" stroke="#000" stroke-width="1.4"/>
<line x1="538.5" y1="343.5" x2="550.6" y2="343.5" stroke="#f5891f" stroke-width="1.7"/>
<path d="M538.85 354.4L544.55 349.7L550.25 354.4L544.55 359.1Z" fill="#000"/>
<path d="M538.85 355.6L544.55 350.9L550.25 355.6L544.55 360.3Z" fill="#000"/>
<line x1="563.1" y1="337.6" x2="563.1" y2="356.3" stroke="#000" stroke-width="1.7"/>
<line x1="559.5" y1="337.6" x2="566.7" y2="337.6" stroke="#000" stroke-width="1.7"/>
<line x1="559.5" y1="356.3" x2="566.7" y2="356.3" stroke="#000" stroke-width="1.7"/>
<rect x="557.8" y="341.5" width="10.6" height="8" fill="#fff"/>
<clipPath id="c18"><rect x="557.8" y="341.5" width="10.6" height="8"/></clipPath><g clip-path="url(#c18)" stroke="#000" stroke-width="1.3"><line x1="555.8" y1="309.4" x2="570.4" y2="324"/><line x1="555.8" y1="320.4" x2="570.4" y2="335"/><line x1="555.8" y1="331.4" x2="570.4" y2="346"/><line x1="555.8" y1="342.4" x2="570.4" y2="357"/><line x1="555.8" y1="353.4" x2="570.4" y2="368"/></g>
<rect x="557.8" y="341.5" width="10.6" height="8" fill="none" stroke="#000" stroke-width="1.4"/>
<line x1="557.4" y1="347.4" x2="568.8" y2="347.4" stroke="#f5891f" stroke-width="1.7"/>
<line x1="475.4" y1="509.7" x2="685.5" y2="509.7" stroke="#333" stroke-width="1.6"/>
<line x1="32" y1="293.5" x2="32" y2="510.5" stroke="#333" stroke-width="1.8"/>
<line x1="28.8" y1="509.7" x2="32" y2="509.7" stroke="#333" stroke-width="1.2"/>
<text x="26.3" y="513.65" font-size="11" text-anchor="end" fill="#3a3a3a">0</text>
<line x1="28.8" y1="466.46" x2="32" y2="466.46" stroke="#333" stroke-width="1.2"/>
<text x="26.3" y="470.41" font-size="11" text-anchor="end" fill="#3a3a3a">0.2</text>
<line x1="28.8" y1="423.22" x2="32" y2="423.22" stroke="#333" stroke-width="1.2"/>
<text x="26.3" y="427.17" font-size="11" text-anchor="end" fill="#3a3a3a">0.4</text>
<line x1="28.8" y1="379.98" x2="32" y2="379.98" stroke="#333" stroke-width="1.2"/>
<text x="26.3" y="383.93" font-size="11" text-anchor="end" fill="#3a3a3a">0.6</text>
<line x1="28.8" y1="336.74" x2="32" y2="336.74" stroke="#333" stroke-width="1.2"/>
<text x="26.3" y="340.69" font-size="11" text-anchor="end" fill="#3a3a3a">0.8</text>
<line x1="28.8" y1="293.5" x2="32" y2="293.5" stroke="#333" stroke-width="1.2"/>
<text x="26.3" y="297.45" font-size="11" text-anchor="end" fill="#3a3a3a">1</text>
<text transform="translate(9.3,401.6) rotate(-90)" font-size="11.15" text-anchor="middle" fill="#111">Performance ABO<tspan font-size="7.3" dy="2.3">deep</tspan></text>
<rect x="70.7" y="527.4" width="543.8" height="86.1" fill="none" stroke="#555" stroke-width="1.1"/>
<line x1="70.7" y1="553" x2="614.5" y2="553" stroke="#444" stroke-width="1.6"/>
<line x1="219" y1="527.6" x2="219" y2="613.5" stroke="#333" stroke-width="1.3" stroke-dasharray="2.8 4.0"/>
<text x="145.5" y="544.8" font-size="11.1" text-anchor="middle" fill="#333">Ground truth from this work</text>
<text x="417.5" y="544.8" font-size="11.1" text-anchor="middle" fill="#333">Ground truth from Soltanian-Zadeh et al. 2019</text>
<rect x="96.9" y="565.8" width="15.2" height="15.2" fill="#000"/>
<rect x="96.9" y="565.8" width="15.2" height="15.2" fill="none" stroke="#000" stroke-width="1.6"/>
<text x="118.1" y="577.3" font-size="11.2" fill="#333">CITE-On offline</text>
<rect x="96.9" y="590" width="15.2" height="15.2" fill="#fff"/>
<clipPath id="c19"><rect x="96.9" y="590" width="15.2" height="15.2"/></clipPath><g clip-path="url(#c19)" stroke="#000" stroke-width="1.3"><line x1="94.9" y1="554.9" x2="114.1" y2="574.1"/><line x1="94.9" y1="565.9" x2="114.1" y2="585.1"/><line x1="94.9" y1="576.9" x2="114.1" y2="596.1"/><line x1="94.9" y1="587.9" x2="114.1" y2="607.1"/><line x1="94.9" y1="598.9" x2="114.1" y2="618.1"/><line x1="94.9" y1="609.9" x2="114.1" y2="629.1"/></g>
<rect x="96.9" y="590" width="15.2" height="15.2" fill="none" stroke="#000" stroke-width="1.6"/>
<text x="118.1" y="601.8" font-size="11.2" fill="#333">CITE-On online</text>
<rect x="228.4" y="565.8" width="15.2" height="15.2" fill="#000"/>
<rect x="228.4" y="565.8" width="15.2" height="15.2" fill="none" stroke="#000" stroke-width="1.6"/>
<text x="251.0" y="577.3" font-size="11.2" fill="#333">CITE-On offline</text>
<rect x="228.4" y="590" width="15.2" height="15.2" fill="#fff"/>
<clipPath id="c20"><rect x="228.4" y="590" width="15.2" height="15.2"/></clipPath><g clip-path="url(#c20)" stroke="#000" stroke-width="1.3"><line x1="226.4" y1="554.9" x2="245.6" y2="574.1"/><line x1="226.4" y1="565.9" x2="245.6" y2="585.1"/><line x1="226.4" y1="576.9" x2="245.6" y2="596.1"/><line x1="226.4" y1="587.9" x2="245.6" y2="607.1"/><line x1="226.4" y1="598.9" x2="245.6" y2="618.1"/><line x1="226.4" y1="609.9" x2="245.6" y2="629.1"/></g>
<rect x="228.4" y="590" width="15.2" height="15.2" fill="none" stroke="#000" stroke-width="1.6"/>
<text x="251.0" y="601.8" font-size="11.2" fill="#333">CITE-On online</text>
<rect x="334.3" y="565.8" width="15.2" height="15.2" fill="#fff"/>
<rect x="334.3" y="565.8" width="15.2" height="15.2" fill="none" stroke="#000" stroke-width="1.6"/>
<text x="356.7" y="577.3" font-size="11.2" fill="#333">STNeuroNET</text>
<rect x="334.3" y="590" width="15.2" height="15.2" fill="#808080"/>
<rect x="334.3" y="590" width="15.2" height="15.2" fill="none" stroke="#000" stroke-width="1.6"/>
<text x="356.7" y="601.8" font-size="11.2" fill="#333">CaImAn online</text>
<rect x="436.3" y="565.8" width="15.2" height="15.2" fill="#c0c0c0"/>
<rect x="436.3" y="565.8" width="15.2" height="15.2" fill="none" stroke="#000" stroke-width="1.6"/>
<text x="458.9" y="577.3" font-size="11.2" fill="#333">CaImAn batch</text>
<rect x="436.3" y="590" width="15.2" height="15.2" fill="#fff"/>
<path d="M436.3 591.2H451.5M436.3 596.6H451.5M436.3 601.8H451.5" stroke="#000" stroke-width="1.3"/>
<rect x="436.3" y="590" width="15.2" height="15.2" fill="none" stroke="#000" stroke-width="1.6"/>
<text x="458.9" y="601.8" font-size="11.2" fill="#333">Suite2P</text>
<rect x="536.2" y="565.8" width="15.2" height="15.2" fill="#fff"/>
<clipPath id="c21"><rect x="536.2" y="565.8" width="15.2" height="15.2"/></clipPath><g clip-path="url(#c21)" stroke="#000" stroke-width="1.3"><line x1="534.2" y1="538.5" x2="553.4" y2="519.3"/><line x1="534.2" y1="547" x2="553.4" y2="527.8"/><line x1="534.2" y1="555.5" x2="553.4" y2="536.3"/><line x1="534.2" y1="564" x2="553.4" y2="544.8"/><line x1="534.2" y1="572.5" x2="553.4" y2="553.3"/><line x1="534.2" y1="581" x2="553.4" y2="561.8"/><line x1="534.2" y1="589.5" x2="553.4" y2="570.3"/><line x1="534.2" y1="598" x2="553.4" y2="578.8"/><line x1="534.2" y1="606.5" x2="553.4" y2="587.3"/></g>
<rect x="536.2" y="565.8" width="15.2" height="15.2" fill="none" stroke="#000" stroke-width="1.6"/>
<text x="559.1" y="577.3" font-size="11.2" fill="#333">HNCorr</text>
<rect x="536.6" y="590" width="15.2" height="15.2" fill="#fff"/>
<path d="M541.1 590V605.2M546.2 590V605.2M551.2 590V605.2" stroke="#000" stroke-width="1.3"/>
<rect x="536.6" y="590" width="15.2" height="15.2" fill="none" stroke="#000" stroke-width="1.6"/>
<text x="559.1" y="601.8" font-size="11.2" fill="#333">UNet2DS</text>
</svg></body></html>
